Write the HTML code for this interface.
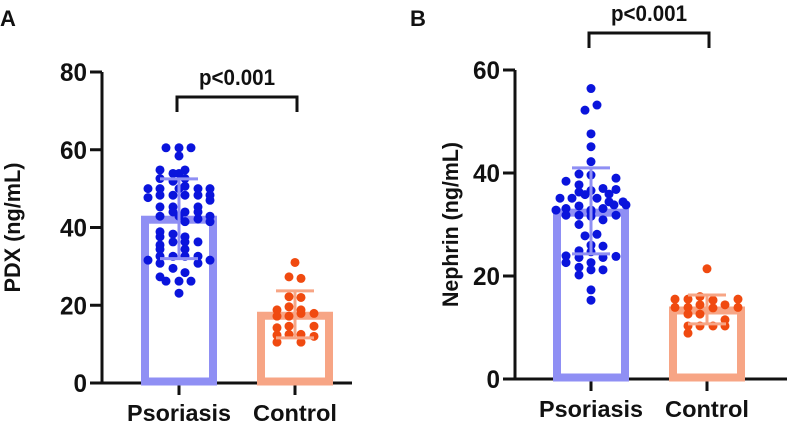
<!DOCTYPE html>
<html><head><meta charset="utf-8"><style>
html,body{margin:0;padding:0;background:#fff;}
svg{display:block;font-family:"Liberation Sans",sans-serif;font-weight:bold;}
</style></head><body>
<svg id="chart" width="787" height="423" viewBox="0 0 787 423" xmlns="http://www.w3.org/2000/svg"></svg>
<script>
// ---- data ----
const categories = ["Psoriasis", "Control"];
const tickLabelsA = [0, 20, 40, 60, 80];
const tickLabelsB = [0, 20, 40, 60];
const meansA = [42.0, 17.3];
const sdHighA = [52.5, 23.7];
const sdLowA = [32.0, 11.6];
const meansB = [32.3, 13.3];
const sdHighB = [41.0, 16.3];
const sdLowB = [24.3, 10.7];
const psoriasisA = [60.5,60.5,60.5,58.4,54.8,54.8,53.9,53.9,52.6,52.6,51.9,50.6,50.0,50.0,50.0,50.0,50.0,48.3,48.3,48.3,48.3,48.3,47.7,47.0,45.3,45.3,45.3,44.0,44.0,44.0,42.9,42.9,42.9,42.2,41.5,41.5,38.9,38.3,37.6,37.6,36.3,36.3,36.3,35.5,34.4,34.4,32.6,32.6,32.6,32.6,31.6,31.6,30.8,30.8,29.5,28.4,27.3,26.2,26.2,26.2,23.1];
const controlA = [31.0,27.3,26.9,22.2,22.0,19.6,18.8,18.8,17.9,17.2,17.2,17.9,14.6,14.6,14.2,12.5,12.5,12.3,12.0,10.5,10.5];
const psoriasisB = [56.4,53.2,52.2,47.6,45.1,42.2,39.8,39.6,39.0,38.4,37.7,37.0,36.8,36.6,36.3,35.9,35.8,35.1,35.1,35.1,34.4,34.4,33.8,33.8,33.6,33.1,33.1,32.8,32.8,32.5,31.8,31.8,31.8,31.6,30.9,30.0,27.8,28.1,26.0,25.8,24.9,24.7,23.9,23.8,23.6,23.6,22.6,22.6,21.7,21.2,21.2,20.2,17.3,15.3];
const controlB = [21.4,16.0,15.5,15.5,15.5,15.3,14.4,14.4,13.9,13.9,13.9,13.8,12.6,12.6,11.5,10.3,10.3,10.3,10.3,8.9];

// ---- layout (horizontal jitter offsets in px, not data) ----
const jitPA = [-13,0,12,0,-19,6,-6,0,-19,6,-6,6,-31,-19,0,19,31,-19,-6,6,19,31,-31,31,-19,-6,19,-6,6,19,-19,0,31,19,6,31,-19,-6,-19,6,-6,6,19,-19,-19,6,-6,6,19,-19,-31,31,-19,19,-6,6,-19,-13,0,12,0];
const jitCA = [0,-6,6,-6,6,-6,-18,6,19,-18,-6,6,-6,19,-18,-6,6,-18,19,-18,6];
const jitPB = [0,6,-6,0,0,0,-12,0,25,-25,-12,12,25,0,-12,18,-6,6,-31,-19,32,18,23,35,-12,-25,12,-35,0,0,-25,-12,25,0,12,-12,-6,6,0,12,-12,0,-25,25,-12,12,-25,0,-12,0,12,-12,0,0];
const jitCB = [0,-7,-32,-19,31,6,-7,18,-32,-19,31,6,-19,-7,18,-19,-7,6,18,-19];

const svg = document.getElementById('chart');
const NS = 'http://www.w3.org/2000/svg';
function mk(tag, attrs, parent){const e=document.createElementNS(NS,tag);for(const k in attrs)e.setAttribute(k,attrs[k]);(parent||svg).appendChild(e);return e;}

function panel(p){
  const g = mk('g',{});
  
  
  const y = v => p.y0 - (v/p.max)*(p.y0-p.yTop);
  const ya = mk('line',{x1:p.ax,x2:p.ax,y1:p.yTop,y2:p.y0+1.5,stroke:'#111','stroke-width':3},g);
  
  
  const xa = mk('line',{x1:p.ax-1.5,x2:p.xEnd,y1:p.y0,y2:p.y0,stroke:'#111','stroke-width':3},g);
  
  
  p.ticks.forEach(t=>{
    mk('line',{x1:p.ax-12,x2:p.ax,y1:y(t),y2:y(t),stroke:'#111','stroke-width':3},g);
    const tx = mk('text',{x:p.ax-15,y:y(t)+9,'text-anchor':'end','font-size':25,fill:'#111',textLength:String(t).length*13.5,lengthAdjust:'spacingAndGlyphs'},g);
    tx.textContent = t;
    
    
  });
  const yt = mk('text',{transform:`translate(${p.titleX},${(p.y0+p.yTop)/2}) rotate(-90)`,'text-anchor':'middle','font-size':22,fill:'#111',textLength:p.titleLen,lengthAdjust:'spacingAndGlyphs'},g);
  yt.textContent = p.title;
  
  
  const colors = [{bar:'#8f8ff4',dot:'#0a14dc'},{bar:'#f7a585',dot:'#f04a10'}];
  const lblLen = [104, 84];
  categories.forEach((c,i)=>{
    const cx = p.cx[i];
    mk('line',{x1:cx,x2:cx,y1:p.y0,y2:p.y0+12,stroke:'#111','stroke-width':3},g);
    const lb = mk('text',{x:cx,y:p.y0+38,'text-anchor':'middle','font-size':23,fill:'#111',textLength:lblLen[i],lengthAdjust:'spacingAndGlyphs'},g);
    lb.textContent = c;
    
    
    const bar = mk('rect',{x:cx-34,y:y(p.means[i]),width:68,height:p.y0-y(p.means[i])-1.5,fill:'none',stroke:colors[i].bar,'stroke-width':8},g);
    
    
    const vals = p.pts[i];
    const jit = p.jit[i];
    vals.forEach((v,k)=>{
      const d = mk('circle',{cx:cx+(jit[k]||0),cy:y(v),r:4.5,fill:colors[i].dot},g);
      
      
    });
    const eb = mk('path',{d:`M${cx},${y(p.hi[i])}V${y(p.lo[i])}M${cx-19},${y(p.hi[i])}H${cx+19}M${cx-19},${y(p.lo[i])}H${cx+19}`,stroke:colors[i].bar,'stroke-width':3,fill:'none'},g);
    
    
  });
  const br = mk('path',{d:`M${p.cx[0]-2},${p.brY+15}V${p.brY}H${p.cx[1]+2}V${p.brY+15}`,stroke:'#111','stroke-width':3,fill:'none'},g);
  
  
  const pv = mk('text',{x:(p.cx[0]+p.cx[1])/2,y:p.brY-12,'text-anchor':'middle','font-size':22,fill:'#111',textLength:76,lengthAdjust:'spacingAndGlyphs'},g);
  pv.textContent = 'p<0.001';
  
  
  const pl = mk('text',{x:p.letterX,y:26,'font-size':22,fill:'#111'},g);
  pl.textContent = p.letter;
  
  
}

panel({name:'panel-a',letter:'A',letterX:0,ax:102,xEnd:352,y0:383,yTop:72,max:80,ticks:tickLabelsA,title:'PDX (ng/mL)',titleX:20,titleLen:130,
  cx:[179,295],means:meansA,hi:sdHighA,lo:sdLowA,pts:[psoriasisA,controlA],jit:[jitPA,jitCA],brY:97});
panel({name:'panel-b',letter:'B',letterX:410,ax:515,xEnd:787,y0:379,yTop:70,max:60,ticks:tickLabelsB,title:'Nephrin (ng/mL)',titleX:458,titleLen:165,
  cx:[591,707],means:meansB,hi:sdHighB,lo:sdLowB,pts:[psoriasisB,controlB],jit:[jitPB,jitCB],brY:33});
</script>
</body></html>
